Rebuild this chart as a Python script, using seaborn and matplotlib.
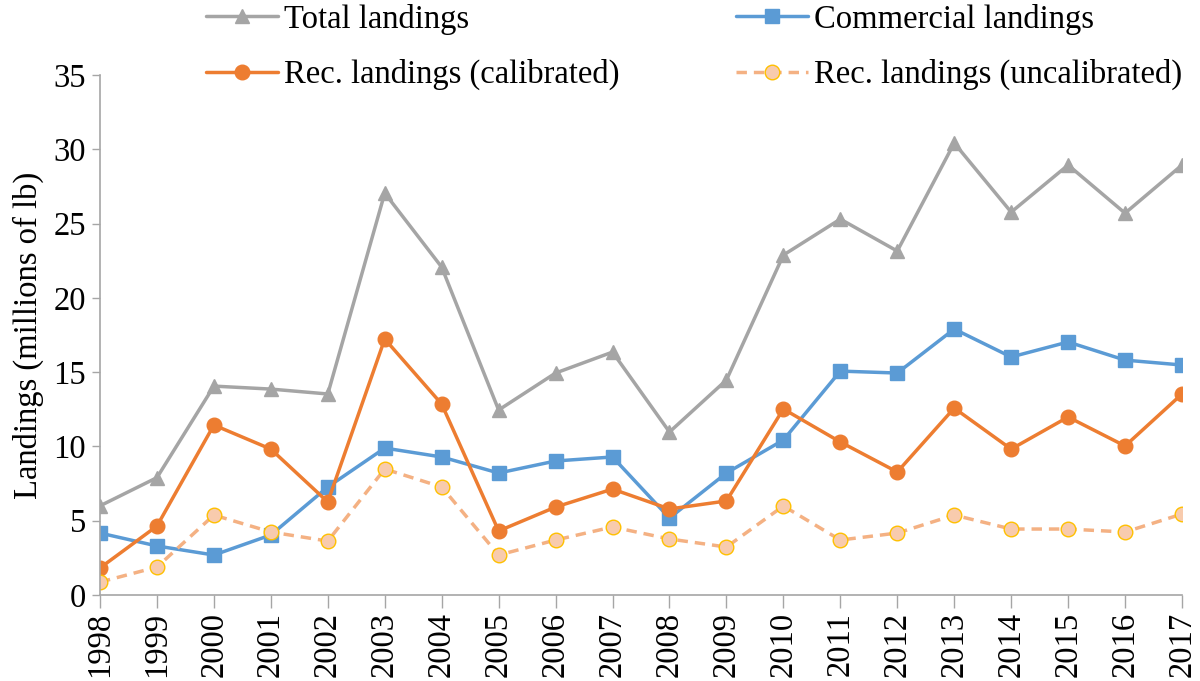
import matplotlib
matplotlib.use("Agg")
import matplotlib.pyplot as plt
import seaborn as sns
import pandas as pd
from matplotlib.lines import Line2D

years = list(range(1998, 2018))
total = [6.0, 7.9, 14.06, 13.86, 13.53, 27.05, 22.07, 12.45, 14.94, 16.35,
         10.97, 14.47, 22.88, 25.3, 23.15, 30.42, 25.77, 28.94, 25.7, 28.94]
commercial = [4.17, 3.3, 2.69, 4.04, 7.27, 9.89, 9.29, 8.21, 9.02, 9.29,
              5.18, 8.21, 10.43, 15.07, 14.94, 17.9, 16.02, 17.03, 15.81, 15.48]
rec_cal = [1.82, 4.64, 11.44, 9.82, 6.26, 17.23, 12.85, 4.31, 5.92, 7.13,
           5.79, 6.33, 12.52, 10.3, 8.28, 12.58, 9.82, 11.98, 10.03, 13.53]
rec_uncal = [0.87, 1.88, 5.38, 4.24, 3.63, 8.48, 7.27, 2.69, 3.7, 4.58,
             3.77, 3.23, 5.99, 3.7, 4.17, 5.38, 4.44, 4.44, 4.24, 5.45]
labels = ["Total landings", "Commercial landings",
          "Rec. landings (calibrated)", "Rec. landings (uncalibrated)"]
ylabel = "Landings (millions of lb)"

sns.set_theme(style="white")
plt.rcParams['font.family'] = ['Liberation Serif', 'DejaVu Serif']
plt.rcParams['text.color'] = 'black'
plt.rcParams['axes.labelcolor'] = 'black'

FS = 23.5
fig = plt.figure(figsize=(12, 6.81), dpi=100)
ax = fig.add_axes([100/1200, 1-595/681, (1182-100)/1200, (595-75)/681])

lw = 2.5
styles = [
    dict(y=total, color="#A5A5A5", marker="^", ms=10, mfc="#A5A5A5", mec="#A5A5A5", ls="-"),
    dict(y=commercial, color="#5B9BD5", marker="s", ms=10, mfc="#5B9BD5", mec="#5B9BD5", ls="-"),
    dict(y=rec_cal, color="#ED7D31", marker="o", ms=10.5, mfc="#ED7D31", mec="#ED7D31", ls="-"),
    dict(y=rec_uncal, color="#F4B183", marker="o", ms=10.5, mfc="#F8CBAD", mec="#FFC000", ls=(0, (3, 2))),
]
handles = []
for st, lab in zip(styles, labels):
    df = pd.DataFrame({"year": years, "val": st["y"]})
    sns.lineplot(data=df, x="year", y="val", ax=ax, color=st["color"], lw=lw,
                 marker=st["marker"], markersize=st["ms"], markerfacecolor=st["mfc"],
                 markeredgecolor=st["mec"], markeredgewidth=1.0, linestyle=st["ls"],
                 legend=False)
    handles.append(Line2D([], [], color=st["color"], lw=lw, ls=st["ls"], marker=st["marker"],
                          markersize=st["ms"], markerfacecolor=st["mfc"],
                          markeredgecolor=st["mec"], markeredgewidth=1.0))

ax.set_xlim(1998, 2017)
ax.set_ylim(0, 35)
ax.set_yticks(range(0, 36, 5))
ax.set_xticks(years)
ax.set_xticklabels([str(y) for y in years], rotation=90)
ax.tick_params(axis="both", labelsize=FS, labelcolor="black")
ax.tick_params(axis="x", direction="out", length=9, width=1, color="#A6A6A6", pad=3, bottom=True)
ax.tick_params(axis="y", direction="out", length=6, width=1, color="#A6A6A6", pad=4, left=True)
for s in ["top", "right"]:
    ax.spines[s].set_visible(False)
for s in ["left", "bottom"]:
    ax.spines[s].set_color("#A6A6A6")
    ax.spines[s].set_linewidth(1.2)
ax.set_xlabel("")
ax.set_ylabel(ylabel, fontsize=FS, labelpad=7, color="black")
ax.grid(False)

order = [0, 2, 1, 3]
fig.legend([handles[i] for i in order], [labels[i] for i in order], ncol=2,
           frameon=False, fontsize=FS, handlelength=2.2, handletextpad=0.2,
           columnspacing=3.55, labelspacing=0.75, borderaxespad=0,
           loc="upper left", bbox_to_anchor=(193/1200, 1.014))

fig.savefig("out.png", dpi=100)
